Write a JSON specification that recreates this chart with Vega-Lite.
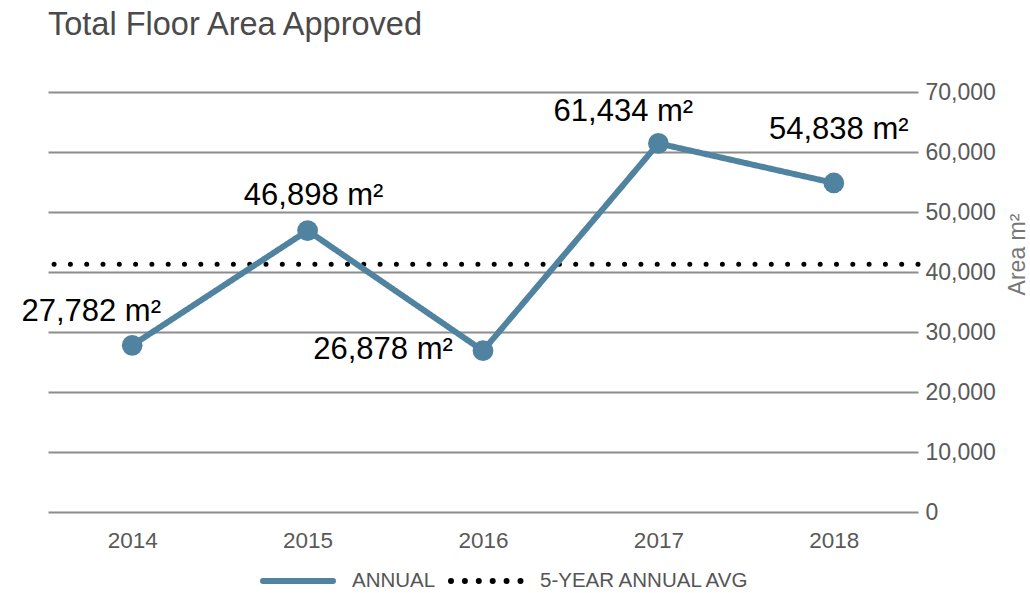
{
  "$schema": "https://vega.github.io/schema/vega-lite/v6.json",
  "width": 870,
  "height": 420,
  "autosize": {"type": "none"},
  "padding": {"top": 92, "left": 48, "right": 112, "bottom": 81},
  "title": {"text": "Total Floor Area Approved", "anchor": "start", "frame": "group", "fontSize": 32.5, "font": "Liberation Sans", "fontWeight": "normal", "color": "#4a4a4a", "offset": 40},
  "datasets": {
    "annual": [
      {"year": "2014", "value": 27782, "series": "ANNUAL"},
      {"year": "2015", "value": 46898, "series": "ANNUAL"},
      {"year": "2016", "value": 26878, "series": "ANNUAL"},
      {"year": "2017", "value": 61434, "series": "ANNUAL"},
      {"year": "2018", "value": 54838, "series": "ANNUAL"}
    ],
    "avg": [{"value": 41300, "series": "5-YEAR ANNUAL AVG"}]
  },
  "config": {
    "font": "Liberation Sans",
    "view": {"stroke": null},
    "legend": {
      "orient": "none", "legendX": 212, "legendY": 451, "direction": "horizontal",
      "symbolType": "stroke", "symbolSize": 4900, "symbolStrokeWidth": 6,
      "labelFontSize": 20.5, "labelColor": "#555555", "labelFont": "Liberation Sans", "labelLimit": 400,
      "columnPadding": 3, "labelOffset": 16, "padding": 0
    }
  },
  "layer": [
    {
      "data": {"name": "avg"},
      "mark": {"type": "rule", "strokeWidth": 5, "strokeCap": "round", "strokeDash": [0, 16.3], "color": "#000000"},
      "encoding": {
        "y": {"field": "value", "type": "quantitative", "scale": {"domain": [0, 70000]},
          "axis": {"orient": "right", "values": [0, 10000, 20000, 30000, 40000, 50000, 60000, 70000], "grid": true, "gridColor": "#8c8c8c", "gridWidth": 2, "domain": false, "ticks": false, "labelPadding": 7, "labelFontSize": 23, "labelColor": "#595959", "format": ",d", "title": "Area m²", "titleFontSize": 23, "titleColor": "#777777", "titleFontWeight": "normal", "titleAngle": 270, "titleY": 162, "titleX": 99, "titleAlign": "center", "titleBaseline": "middle"}}
      }
    },
    {
      "data": {"name": "annual"},
      "mark": {"type": "line", "strokeWidth": 6, "strokeCap": "round"},
      "encoding": {
        "x": {"field": "year", "type": "ordinal", "scale": {"type": "point", "padding": 0.48},
          "axis": {"domain": false, "ticks": false, "grid": false, "labelPadding": 17, "labelFontSize": 22.5, "labelColor": "#595959", "title": null, "labelAngle": 0}},
        "y": {"field": "value", "type": "quantitative", "scale": {"domain": [0, 70000]}},
        "color": {"field": "series", "type": "nominal", "scale": {"domain": ["ANNUAL", "5-YEAR ANNUAL AVG"], "range": ["#4f83a0", "#000000"]},
          "legend": {"title": null, "symbolType": "stroke", "encode": {"symbols": {"update": {"strokeCap": {"value": "round"}}}}}},
        "strokeDash": {"field": "series", "type": "nominal", "scale": {"domain": ["ANNUAL", "5-YEAR ANNUAL AVG"], "range": [[1, 0], [0, 13.9]]}, "legend": {"title": null}}
      }
    },
    {
      "data": {"name": "annual"},
      "mark": {"type": "point", "filled": true, "size": 430, "opacity": 1, "color": "#4f83a0"},
      "encoding": {
        "x": {"field": "year", "type": "ordinal"},
        "y": {"field": "value", "type": "quantitative"}
      }
    },
    {
      "data": {"name": "annual"},
      "transform": [{"filter": "datum.year == '2014'"}, {"calculate": "format(datum.value, ',') + ' m²'", "as": "label"}],
      "mark": {"type": "text", "fontSize": 31, "color": "#000000", "align": "center", "baseline": "middle", "dx": -41, "dy": -33},
      "encoding": {"x": {"field": "year", "type": "ordinal"}, "y": {"field": "value", "type": "quantitative"}, "text": {"field": "label"}}
    },
    {
      "data": {"name": "annual"},
      "transform": [{"filter": "datum.year == '2015'"}, {"calculate": "format(datum.value, ',') + ' m²'", "as": "label"}],
      "mark": {"type": "text", "fontSize": 31, "color": "#000000", "align": "center", "baseline": "middle", "dx": 6, "dy": -35},
      "encoding": {"x": {"field": "year", "type": "ordinal"}, "y": {"field": "value", "type": "quantitative"}, "text": {"field": "label"}}
    },
    {
      "data": {"name": "annual"},
      "transform": [{"filter": "datum.year == '2016'"}, {"calculate": "format(datum.value, ',') + ' m²'", "as": "label"}],
      "mark": {"type": "text", "fontSize": 31, "color": "#000000", "align": "center", "baseline": "middle", "dx": -100, "dy": -1},
      "encoding": {"x": {"field": "year", "type": "ordinal"}, "y": {"field": "value", "type": "quantitative"}, "text": {"field": "label"}}
    },
    {
      "data": {"name": "annual"},
      "transform": [{"filter": "datum.year == '2017'"}, {"calculate": "format(datum.value, ',') + ' m²'", "as": "label"}],
      "mark": {"type": "text", "fontSize": 31, "color": "#000000", "align": "center", "baseline": "middle", "dx": -35, "dy": -31},
      "encoding": {"x": {"field": "year", "type": "ordinal"}, "y": {"field": "value", "type": "quantitative"}, "text": {"field": "label"}}
    },
    {
      "data": {"name": "annual"},
      "transform": [{"filter": "datum.year == '2018'"}, {"calculate": "format(datum.value, ',') + ' m²'", "as": "label"}],
      "mark": {"type": "text", "fontSize": 31, "color": "#000000", "align": "center", "baseline": "middle", "dx": 5, "dy": -53},
      "encoding": {"x": {"field": "year", "type": "ordinal"}, "y": {"field": "value", "type": "quantitative"}, "text": {"field": "label"}}
    }
  ]
}
